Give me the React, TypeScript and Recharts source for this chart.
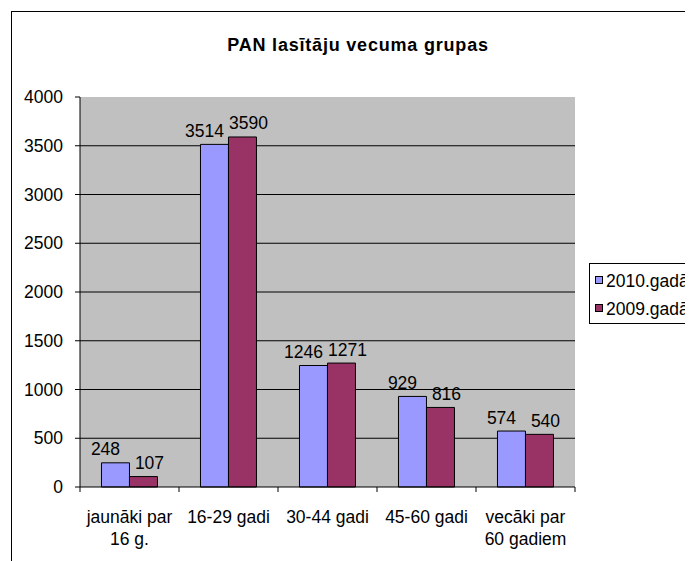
import React from "react";
import { BarChart, Bar, XAxis, YAxis, CartesianGrid, LabelList } from "recharts";

const title = "PAN lasītāju vecuma grupas";
const categories = ["jaunāki par\n16 g.", "16-29 gadi", "30-44 gadi", "45-60 gadi", "vecāki par\n60 gadiem"];
const series2010 = [248, 3514, 1246, 929, 574];
const series2009 = [107, 3590, 1271, 816, 540];
const seriesNames = ["2010.gadā", "2009.gadā"];
const seriesColors = ["#9999FF", "#993366"];
const yTicks = [0, 500, 1000, 1500, 2000, 2500, 3000, 3500, 4000];
const gridValues = [500, 1000, 1500, 2000, 2500, 3000, 3500];

const data = categories.map((name, i) => ({ name, v2010: series2010[i], v2009: series2009[i] }));

const FONT = "'Liberation Sans', Arial, sans-serif";
const FS = 17.5;

const CatTick = (props: any) => {
  const { x, y, payload, index, visibleTicksCount, width } = props;
  const count = visibleTicksCount || categories.length;
  const half =
    payload && typeof payload.offset === "number" && payload.offset > 0
      ? payload.offset
      : (width || 495) / (2 * count);
  const lines = String(payload.value).split("\n");
  return (
    <g>
      <line x1={x - half} x2={x - half} y1={y} y2={y + 5} stroke="#000" />
      {index === count - 1 && <line x1={x + half} x2={x + half} y1={y} y2={y + 5} stroke="#000" />}
      <text x={x} y={y} textAnchor="middle" fontSize={FS} fontFamily={FONT} fill="#000">
        {lines.map((l, i) => (
          <tspan key={i} x={x} dy={i === 0 ? 36 : 21.7}>
            {l}
          </tspan>
        ))}
      </text>
    </g>
  );
};

const makeLabel = (shift: number) => (p: any) => {
  const vb = p.viewBox || {};
  const bx = vb.x ?? p.x;
  const by = vb.y ?? p.y;
  const bw = vb.width ?? p.width;
  return (
    <text
      x={bx + bw / 2 + shift}
      y={by - 7.5}
      textAnchor="middle"
      fontSize={FS}
      fontFamily={FONT}
      fill="#000"
    >
      {p.value}
    </text>
  );
};

export default function App() {
  return (
    <div
      style={{
        position: "relative",
        width: 685,
        height: 553,
        overflow: "hidden",
        fontFamily: FONT,
        background: "#fff",
      }}
    >
      <div
        style={{
          position: "absolute",
          left: 3,
          top: 3,
          width: 800,
          height: 800,
          border: "1px solid #000",
          boxSizing: "border-box",
        }}
      />
      <div style={{ position: "absolute", left: 0, top: 0 }}>
        <BarChart
          width={685}
          height={553}
          data={data}
          margin={{ top: 89, right: 118, bottom: 14, left: 0 }}
          barCategoryGap="21.7%"
          barGap={0}
        >
          <CartesianGrid fill="#C0C0C0" stroke="#000" vertical={false} horizontalValues={gridValues} />
          <XAxis
            xAxisId="top"
            orientation="top"
            dataKey="name"
            height={0}
            axisLine={{ stroke: "#808080" }}
            tickLine={false}
            tick={false}
          />
          <YAxis
            yAxisId="right"
            orientation="right"
            width={0}
            domain={[0, 1]}
            axisLine={{ stroke: "#808080" }}
            tickLine={false}
            tick={false}
          />
          <XAxis
            dataKey="name"
            height={60}
            axisLine={{ stroke: "#000" }}
            tickLine={false}
            tickSize={0}
            tickMargin={0}
            interval={0}
            tick={CatTick}
          />
          <YAxis
            width={72}
            domain={[0, 4000]}
            ticks={yTicks}
            axisLine={{ stroke: "#000" }}
            tickLine={{ stroke: "#000" }}
            tickSize={5}
            tickMargin={12}
            tick={{ fontSize: FS, fontFamily: FONT, fill: "#000" }}
          />
          <Bar dataKey="v2010" name={seriesNames[0]} fill={seriesColors[0]} stroke="#000" strokeWidth={1} isAnimationActive={false}>
            <LabelList dataKey="v2010" content={makeLabel(-10)} />
          </Bar>
          <Bar dataKey="v2009" name={seriesNames[1]} fill={seriesColors[1]} stroke="#000" strokeWidth={1} isAnimationActive={false}>
            <LabelList dataKey="v2009" content={makeLabel(6)} />
          </Bar>
        </BarChart>
      </div>
      <div
        style={{
          position: "absolute",
          left: 350,
          top: 27,
          transform: "translateX(-50%)",
          fontSize: 18,
          lineHeight: "20px",
          fontWeight: "bold",
          letterSpacing: 0.8,
          whiteSpace: "nowrap",
          color: "#000",
        }}
      >
        {title}
      </div>
      <div
        style={{
          position: "absolute",
          left: 581,
          top: 255,
          width: 140,
          border: "1px solid #000",
          background: "#fff",
          paddingTop: 3,
          boxSizing: "content-box",
        }}
      >
        {seriesNames.map((n, i) => (
          <div
            key={n}
            style={{
              display: "flex",
              alignItems: "center",
              height: 28,
              lineHeight: "28px",
              fontSize: FS,
              whiteSpace: "nowrap",
              color: "#000",
            }}
          >
            <span
              style={{
                display: "inline-block",
                width: 6,
                height: 6,
                border: "1px solid #000",
                background: seriesColors[i],
                marginLeft: 5,
                marginRight: 3,
                marginTop: -3,
              }}
            />
            {n}
          </div>
        ))}
      </div>
    </div>
  );
}
